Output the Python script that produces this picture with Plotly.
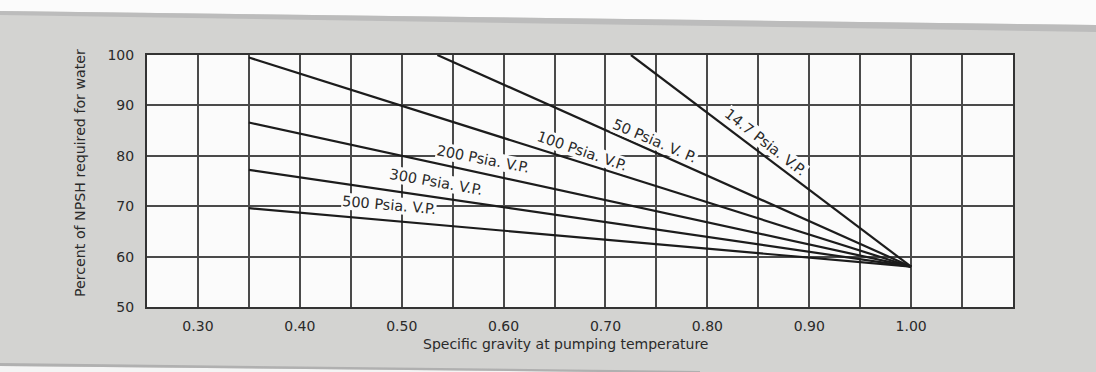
import plotly.graph_objects as go

# ---- data ----
x_tick_vals = [0.30, 0.40, 0.50, 0.60, 0.70, 0.80, 0.90, 1.00]
x_tick_text = ["0.30", "0.40", "0.50", "0.60", "0.70", "0.80", "0.90", "1.00"]
y_tick_vals = [50, 60, 70, 80, 90, 100]
y_tick_text = ["50", "60", "70", "80", "90", "100"]

series_names = ["14.7 Psia. V.P.", "50 Psia. V. P.", "100 Psia. V.P.",
                "200 Psia. V.P.", "300 Psia. V.P.", "500 Psia. V.P."]
sg_14_7 = [0.725, 1.00]
pct_14_7 = [100, 58]
sg_50 = [0.535, 1.00]
pct_50 = [100, 58]
sg_100 = [0.35, 1.00]
pct_100 = [99.5, 58]
sg_200 = [0.35, 1.00]
pct_200 = [86.6, 58]
sg_300 = [0.35, 1.00]
pct_300 = [77.2, 58]
sg_500 = [0.35, 1.00]
pct_500 = [69.6, 58]

series_x = [sg_14_7, sg_50, sg_100, sg_200, sg_300, sg_500]
series_y = [pct_14_7, pct_50, pct_100, pct_200, pct_300, pct_500]

# label placement (style)
label_pos = [(0.8566, 82.7, 38), (0.7486, 83.0, 23), (0.677, 80.9, 19),
             (0.5798, 79.4, 11), (0.5337, 74.8, 10), (0.4875, 70.25, 5)]

W, H = 1096, 372
L, R, T, B = 147, 83, 55, 65
PW, PH = W - L - R, H - T - B

def px_x(px):
    return (px - L) / PW

def px_y(py):
    return 1 - (py - T) / PH

INK = "#2a2a2a"
GRID = "#4a4a4a"
FONT = "DejaVu Sans"

fig = go.Figure()
for xs, ys, name in zip(series_x, series_y, series_names):
    fig.add_trace(go.Scatter(x=xs, y=ys, mode="lines", name=name,
                             line=dict(color="#1c1c1c", width=2.2),
                             showlegend=False, hoverinfo="skip"))

annotations = []
for (ax, ay, ang), name in zip(label_pos, series_names):
    annotations.append(dict(x=ax, y=ay, xref="x", yref="y", text=name,
                            showarrow=False, textangle=ang,
                            font=dict(family=FONT, size=14.5, color=INK),
                            bgcolor="#fbfbfb", borderpad=0))

annotations.append(dict(x=px_x(565), y=px_y(344), xref="paper", yref="paper",
                        text="Specific gravity at pumping temperature",
                        showarrow=False, font=dict(family=FONT, size=14, color=INK),
                        xanchor="center", yanchor="middle"))
annotations.append(dict(x=px_x(80), y=px_y(173), xref="paper", yref="paper",
                        text="Percent of NPSH required for water", textangle=-90,
                        showarrow=False, font=dict(family=FONT, size=14.2, color=INK),
                        xanchor="center", yanchor="middle"))

shapes = [
    # white paper edge at top (slanted scan)
    dict(type="path", xref="paper", yref="paper", layer="below",
         path=f"M {px_x(-5)},{px_y(-5)} L {px_x(1101)},{px_y(-5)} L {px_x(1101)},{px_y(25)} L {px_x(-5)},{px_y(11)} Z",
         fillcolor="#fbfbfb", line=dict(width=0)),
    # darker shadow band beneath the top edge
    dict(type="path", xref="paper", yref="paper", layer="below",
         path=f"M {px_x(-5)},{px_y(11)} L {px_x(1101)},{px_y(25)} L {px_x(1101)},{px_y(32)} L {px_x(-5)},{px_y(15)} Z",
         fillcolor="#bcbcbc", line=dict(width=0)),
    # white edge at bottom left
    dict(type="path", xref="paper", yref="paper", layer="below",
         path=f"M {px_x(-5)},{px_y(366)} L {px_x(700)},{px_y(373)} L {px_x(-5)},{px_y(373)} Z",
         fillcolor="#f4f4f4", line=dict(width=0)),
    dict(type="path", xref="paper", yref="paper", layer="below",
         path=f"M {px_x(-5)},{px_y(363)} L {px_x(700)},{px_y(371)} L {px_x(700)},{px_y(373)} L {px_x(-5)},{px_y(366)} Z",
         fillcolor="#b0b0b0", line=dict(width=0)),
]

fig.update_layout(
    width=W, height=H,
    margin=dict(l=L, r=R, t=T, b=B, pad=0),
    paper_bgcolor="#d3d3d1",
    plot_bgcolor="#fbfbfb",
    font=dict(family=FONT, size=13, color=INK),
    annotations=annotations,
    shapes=shapes,
    xaxis=dict(range=[0.25, 1.10], tickvals=x_tick_vals, ticktext=x_tick_text,
               showgrid=True, gridcolor=GRID, gridwidth=1.6,
               minor=dict(tick0=0.25, dtick=0.05, showgrid=True,
                          gridcolor=GRID, gridwidth=1.6),
               showline=True, linecolor="#333333", linewidth=2, mirror=True,
               ticks="", ticklabelstandoff=5, zeroline=False,
               tickfont=dict(family=FONT, size=14, color=INK)),
    yaxis=dict(range=[50, 100], tickvals=y_tick_vals, ticktext=y_tick_text,
               showgrid=True, gridcolor=GRID, gridwidth=1.6,
               showline=True, linecolor="#333333", linewidth=2, mirror=True,
               ticks="", ticklabelstandoff=8, zeroline=False,
               tickfont=dict(family=FONT, size=14, color=INK)),
)

fig.write_html("out.html")
